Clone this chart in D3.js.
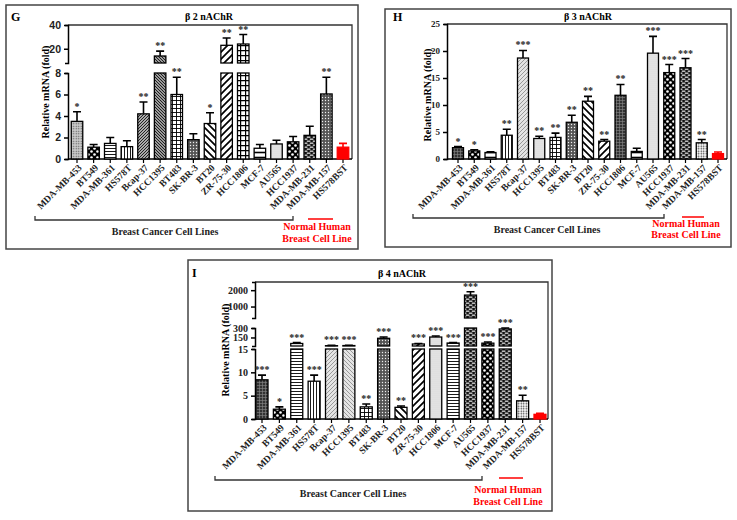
<!DOCTYPE html>
<html><head><meta charset="utf-8">
<script src="https://cdn.jsdelivr.net/npm/d3@7"></script>
<style>body{margin:0;background:#fff}</style>
</head><body><svg id="c" width="737" height="520"></svg>
<script>
// ---------- DATA ----------
const categories = ["MDA-MB-453","BT549","MDA-MB-361","HS578T","Bcap-37","HCC1395","BT483","SK-BR-3","BT20","ZR-75-30","HCC1806","MCF-7","AU565","HCC1937","MDA-MB-231","MDA-MB-157","HS578BST"];
const b2Values = [3.5,1.1,1.45,1.15,4.2,13.9,6.0,1.8,3.3,22.9,24.0,1.0,1.4,1.6,2.2,6.05,1.1];
const b2Errors = [4.4,1.35,2.0,1.7,5.3,18,7.6,2.35,4.3,29,32,1.35,1.75,2.1,3.05,7.6,1.45];
const b2Stars  = ["*","","","","**","**","**","","*","**","**","","","","","**",""];
const b3Values = [2.1,1.5,1.2,4.4,18.7,3.8,4.0,6.8,10.7,3.3,11.8,1.4,19.6,16.0,16.9,3.0,1.0];
const b3Errors = [2.3,1.7,1.35,5.5,20.1,4.2,4.8,8.1,11.6,3.6,13.8,2.0,22.7,17.5,18.6,3.6,1.3];
const b3Stars  = ["*","*","","**","***","**","**","**","**","**","**","","***","***","***","**",""];
const b4Values = [8.4,2.1,55,8.1,20,22,2.6,137,2.5,47,157,62,1700,60,285,3.9,1.0];
const b4Errors = [9.4,2.6,70,9.4,25,27,3.2,157,2.8,55,173,70,1900,78,300,5.1,1.2];
const b4Stars  = ["***","*","***","***","***","***","**","***","**","***","***","***","***","***","***","**",""];
const b2Ticks = [[0,2,4,6,8],[20,40]];
const b3Ticks = [[0,5,10,15,20,25]];
const b4Ticks = [[0,5,10,15],[150,300],[1000,2000]];
const titles = ["β 2 nAChR","β 3 nAChR","β 4 nAChR"];
const letters = ["G","H","I"];
const yLabel = "Relative mRNA (fold)";
const groupLabel = "Breast Cancer Cell Lines";
const normalLabel = ["Normal Human","Breast Cell Line"];

// ---------- STYLES ----------
const serif = "'Liberation Serif','Times New Roman',serif";
const sans = "'Liberation Sans',Arial,sans-serif";
const svg = d3.select("#c");
const defs = svg.append("defs");
function pat(id,w,h,bg,draw){
  const p = defs.append("pattern").attr("id",id).attr("patternUnits","userSpaceOnUse").attr("width",w).attr("height",h);
  p.append("rect").attr("width",w).attr("height",h).attr("fill",bg);
  draw(p);
}
const ln=(p,d,sw,c)=>p.append("path").attr("d",d).attr("stroke",c||"#000").attr("stroke-width",sw).attr("fill","none");
const dot=(p,x,y,r,c)=>p.append("circle").attr("cx",x).attr("cy",y).attr("r",r).attr("fill",c);
pat("hlines",4,3,"#fff",p=>ln(p,"M0,1.5H4",0.9));
pat("hwide",4,5,"#fff",p=>ln(p,"M0,2.5H4",1.6));
pat("vlines",3,4,"#fff",p=>ln(p,"M1.5,0V4",0.9));
pat("fdiag",3,3,"#aaa",p=>ln(p,"M0,3L3,0M-1,1L1,-1M2,4L4,2",0.8));
pat("fdiagLight",4,4,"#e4e4e4",p=>ln(p,"M0,4L4,0M-1,1L1,-1M3,5L5,3",0.6,"#666"));
pat("bdiag",3,3,"#999",p=>ln(p,"M0,0L3,3M-1,2L1,4M2,-1L4,1",0.8));
pat("bdiagLight",4,4,"#e4e4e4",p=>ln(p,"M0,0L4,4M-1,3L1,5M3,-1L5,1",0.6,"#666"));
pat("wfdiag",7,7,"#fff",p=>ln(p,"M0,7L7,0M-1,1L1,-1M6,8L8,6",1.7));
pat("wbdiag",7,7,"#fff",p=>ln(p,"M0,0L7,7M-1,6L1,8M6,-1L8,1",1.7));
pat("grid",4,4,"#fff",p=>ln(p,"M0,0.5H4M0.5,0V4",0.9));
pat("gridBold",5,5,"#fff",p=>ln(p,"M0,0.5H5M0.5,0V5",1.4));
pat("circles",6,6,"#000",p=>{dot(p,1.5,1.5,1.3,"#fff");dot(p,4.5,4.5,1.3,"#fff");});
pat("darkdots",3,3,"#555",p=>dot(p,1.5,1.5,0.7,"#eee"));
pat("dots",2.5,2.5,"#fff",p=>dot(p,1.25,1.25,0.75,"#333"));
pat("light",2,2,"#eee",p=>dot(p,1,1,0.45,"#888"));
pat("grad",2.5,2.5,"#ccc",p=>dot(p,1.25,1.25,0.7,"#555"));
pat("dark",3,3,"#333",p=>ln(p,"M0,1.5H3M1.5,0V3",0.6,"#888"));
pat("bricks",6,4,"#111",p=>{
  p.append("rect").attr("x",0.8).attr("y",0.6).attr("width",3.6).attr("height",1.1).attr("fill","#fff");
  p.append("rect").attr("x",-2.2).attr("y",2.6).attr("width",3.6).attr("height",1.1).attr("fill","#fff");
  p.append("rect").attr("x",3.8).attr("y",2.6).attr("width",3.6).attr("height",1.1).attr("fill","#fff");
});
const fillsG = ["grad","circles","hlines","vlines","fdiag","bdiag","grid","darkdots","wbdiag","wfdiag","gridBold","hwide","light","circles","bricks","darkdots","red"];
const fillsH = ["dark","circles","hwide","vlines","fdiagLight","light","grid","darkdots","wbdiag","wfdiag","dark","hwide","light","circles","bricks","dots","red"];
const fillsI = ["dark","circles","hlines","vlines","fdiagLight","bdiagLight","grid","darkdots","wbdiag","wfdiag","light","hlines","bricks","circles","bricks","dots","red"];
const fillOf = f => f==="red" ? "#ff0000" : `url(#${f})`;

// ---------- PANELS ----------
const panels = [
 {box:[6,5,352,244], letter:letters[0], letterXY:[11,21], title:titles[0], titleXY:[209,20],
  values:b2Values, errors:b2Errors, stars:b2Stars, fills:fillsG, ticks:b2Ticks, tickFont:sans, tickSize:10.5,
  axisX:68, right:352, top:25, base:159, xr:[77,343], barW:11.5,
  segs:[{d:[0,8],r:[159,73]},{d:[8,40],r:[63,25]}],
  yLab:[48.5,92], bracket:[35,293,220], groupXY:[165,235], redLine:[308,333,219], normXY:[317,230,242]},
 {box:[385,9,346,238], letter:letters[1], letterXY:[393,21], title:titles[1], titleXY:[588,20],
  values:b3Values, errors:b3Errors, stars:b3Stars, fills:fillsH, ticks:b3Ticks, tickFont:serif, tickSize:9,
  axisX:447, right:727, top:24, base:159, xr:[458,718], barW:11,
  segs:[{d:[0,25],r:[159,24]}],
  yLab:[430.5,95], bracket:[413,664,218], groupXY:[547,233], redLine:[682,704,217], normXY:[686,227,238]},
 {box:[188,260,364,251], letter:letters[2], letterXY:[192,277], title:titles[2], titleXY:[402,277],
  values:b4Values, errors:b4Errors, stars:b4Stars, fills:fillsI, ticks:b4Ticks, tickFont:serif, tickSize:10,
  axisX:255, right:548, top:282, base:419, xr:[262,540], barW:12,
  segs:[{d:[0,15],r:[419,349]},{d:[15,300],r:[346,328]},{d:[300,2500],r:[318,282]}],
  yLab:[229,350], bracket:[215,482,480], groupXY:[353,497], redLine:[499,523,478], normXY:[508,493,505]}
];

panels.forEach(P=>{
  const g = svg.append("g");
  g.append("rect").attr("x",P.box[0]).attr("y",P.box[1]).attr("width",P.box[2]).attr("height",P.box[3])
    .attr("fill","none").attr("stroke","#444").attr("stroke-width",1.5);
  g.append("text").attr("x",P.letterXY[0]).attr("y",P.letterXY[1]).text(P.letter)
    .attr("font-family",serif).attr("font-weight","bold").attr("font-size",12);
  g.append("text").attr("x",P.titleXY[0]).attr("y",P.titleXY[1]).text(P.title).attr("text-anchor","middle")
    .attr("font-family",serif).attr("font-weight","bold").attr("font-size",10);
  // plot frame
  g.append("path").attr("d",`M${P.axisX},${P.top}H${P.right}V${P.base}`).attr("fill","none").attr("stroke","#333").attr("stroke-width",1.3);
  // scales
  const scales = P.segs.map(s=>({d:s.d, sc:d3.scaleLinear().domain(s.d).range(s.r)}));
  const yOf = v => (scales.find(s=>v<=s.d[1]) || scales[scales.length-1]).sc(v);
  const x = d3.scalePoint().domain(categories).range(P.xr);
  // y axis segments
  scales.forEach((s,i)=>{
    const ax = g.append("g").attr("transform",`translate(${P.axisX},0)`)
      .call(d3.axisLeft(s.sc).tickValues(P.ticks[i]).tickSize(4).tickSizeOuter(3).tickFormat(d3.format("d")));
    ax.select(".domain").attr("stroke-width",1.5);
    ax.selectAll(".tick line").attr("stroke-width",1.5);
    ax.selectAll("text").attr("font-family",P.tickFont).attr("font-weight","bold").attr("font-size",P.tickSize).attr("fill","#222");
  });
  g.append("text").attr("transform",`translate(${P.yLab[0]},${P.yLab[1]}) rotate(-90)`).attr("text-anchor","middle")
    .text(yLabel).attr("font-family",serif).attr("font-weight","bold").attr("font-size",10);
  // x axis
  const xa = g.append("g").attr("transform",`translate(0,${P.base})`)
  xa.append("path").attr("d",`M${P.axisX},0H${P.right}`).attr("stroke","#000").attr("stroke-width",1.5);
  categories.forEach(c=>{
    xa.append("path").attr("d",`M${x(c)},0V4`).attr("stroke","#000").attr("stroke-width",1.2);
    xa.append("text").attr("transform",`translate(${x(c)+3},${7}) rotate(-45)`).attr("text-anchor","end").attr("dy","0.35em")
      .text(c).attr("font-family",serif).attr("font-weight","bold").attr("font-size",9.5).attr("fill","#222");
  });
  // bars
  categories.forEach((c,i)=>{
    const v = P.values[i], e = P.errors[i], col = P.fills[i]==="red" ? "#ff0000" : "#000";
    const cx = x(c);
    // error bar
    g.append("path").attr("d",`M${cx},${yOf(v)}V${yOf(e)}M${cx-4},${yOf(e)}H${cx+4}`).attr("stroke",col).attr("stroke-width",1.6).attr("fill","none");
    scales.forEach(s=>{
      if (v > s.d[0]) {
        const t = Math.min(v, s.d[1]);
        g.append("rect").attr("x",cx-P.barW/2).attr("width",P.barW)
          .attr("y",s.sc(t)).attr("height",s.sc(s.d[0])-s.sc(t))
          .attr("fill",fillOf(P.fills[i])).attr("stroke",col).attr("stroke-width",1.3);
      }
    });
    if (P.stars[i]) g.append("text").attr("x",cx).attr("y",yOf(e)-2).attr("text-anchor","middle").text(P.stars[i])
      .attr("font-family",serif).attr("font-weight","bold").attr("font-size",10).attr("fill","#222");
  });
  // bracket
  const [b0,b1,by] = P.bracket;
  g.append("path").attr("d",`M${b0},${by-4}V${by}H${b1}V${by-4}`).attr("fill","none").attr("stroke","#333").attr("stroke-width",1.3);
  g.append("text").attr("x",P.groupXY[0]).attr("y",P.groupXY[1]).attr("text-anchor","middle").text(groupLabel)
    .attr("font-family",serif).attr("font-weight","bold").attr("font-size",10).attr("fill","#222");
  g.append("path").attr("d",`M${P.redLine[0]},${P.redLine[2]}H${P.redLine[1]}`).attr("stroke","#ff0000").attr("stroke-width",1.5);
  g.append("text").attr("x",P.normXY[0]).attr("y",P.normXY[1]).attr("text-anchor","middle").text(normalLabel[0])
    .attr("font-family",serif).attr("font-weight","bold").attr("font-size",10).attr("fill","#ff0000");
  g.append("text").attr("x",P.normXY[0]).attr("y",P.normXY[2]).attr("text-anchor","middle").text(normalLabel[1])
    .attr("font-family",serif).attr("font-weight","bold").attr("font-size",10).attr("fill","#ff0000");
});
</script></body></html>
